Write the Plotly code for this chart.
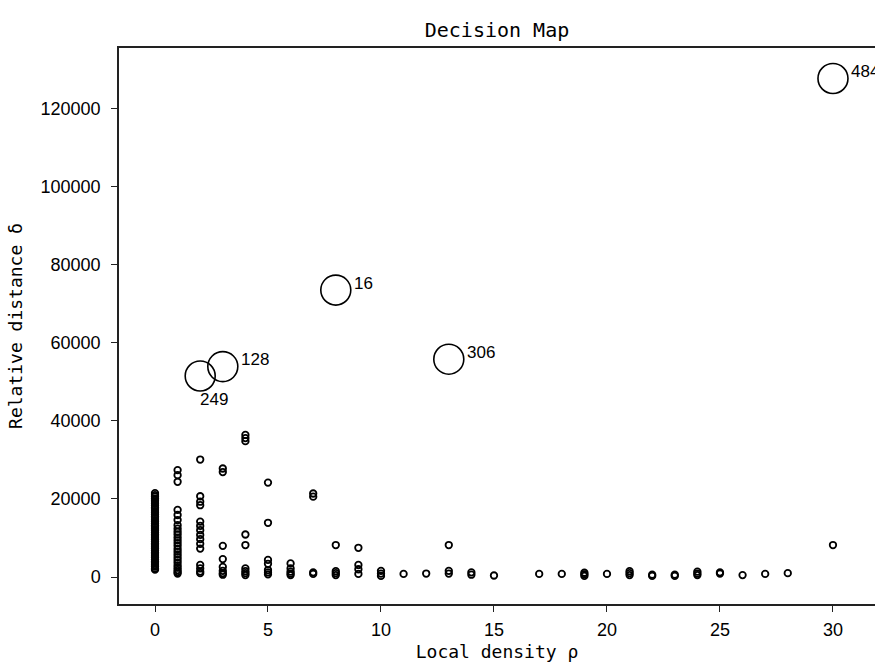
import plotly.graph_objects as go

# Small points: local density (rho) columns and the relative distances (delta) read per column
column_rho = [0, 1, 2, 3, 4, 5, 6, 7, 8, 9, 10, 11, 12, 13, 14, 15,
              17, 18, 19, 20, 21, 22, 23, 24, 25, 26, 27, 28, 30]
column_delta = [
    [21500, 21000, 20600, 20100, 19700, 19200, 18800, 18300, 17800, 17400, 16900, 16500,
     16000, 15500, 15100, 14600, 14200, 13700, 13200, 12800, 12300, 11900, 11400, 10900,
     10500, 10000, 9600, 9100, 8600, 8200, 7700, 7300, 6800, 6300, 5900, 5400, 5000,
     4500, 4000, 3600, 3100, 2700, 2200, 1900],
    [27400, 26100, 24400, 17200, 15900, 14600, 13300, 12400, 11600, 10900, 10100, 9400,
     8700, 8000, 7200, 6500, 5800, 5100, 4400, 3700, 3000, 2400, 1800, 1300, 900],
    [30100, 20700, 19300, 18400, 14200, 13100, 12000, 10800, 9700, 8500, 7300, 3100,
     2200, 1400, 1000],
    [27800, 26900, 8000, 4600, 2600, 1600, 1000, 600],
    [36400, 35600, 34800, 10900, 8200, 2200, 1500, 1000, 500],
    [24200, 13900, 4400, 3400, 1800, 1200, 700],
    [3500, 2200, 1400, 900, 500],
    [21400, 20600, 1200, 800],
    [8200, 1500, 1000, 500],
    [7500, 3100, 2000, 800],
    [1600, 900, 300],
    [800],
    [900],
    [8200, 1600, 900],
    [1200, 600],
    [400],
    [800],
    [800],
    [1100, 700, 300],
    [800],
    [1500, 1000, 500],
    [600, 300],
    [600, 300],
    [1400, 900, 500],
    [1200, 900],
    [500],
    [800],
    [1000],
    [8200],
]

# Cluster centres
center_rho = [2, 3, 8, 13, 30]
center_delta = [51500, 53900, 73500, 55800, 127700]
center_ids = ["249", "128", "16", "306", "484"]

small_x, small_y = [], []
for r, vals in zip(column_rho, column_delta):
    for v in vals:
        small_x.append(r)
        small_y.append(v)

fig = go.Figure()
fig.add_trace(go.Scatter(
    x=small_x, y=small_y, mode="markers",
    marker=dict(size=6.5, color="rgba(0,0,0,0)", line=dict(color="black", width=1.8)),
    showlegend=False, hoverinfo="skip"))
fig.add_trace(go.Scatter(
    x=center_rho, y=center_delta, mode="markers",
    marker=dict(size=30, color="rgba(0,0,0,0)", line=dict(color="black", width=1.6)),
    showlegend=False, hoverinfo="skip"))

for r, d, label in zip(center_rho, center_delta, center_ids):
    if label == "249":
        xs, ys = -2, -24
    else:
        xs, ys = 16, 7
    fig.add_annotation(x=r, y=d, xref="x", yref="y", text=label, showarrow=False,
                       xanchor="left", yanchor="middle", xshift=xs, yshift=ys,
                       font=dict(family="Liberation Sans", size=17, color="black"))

mono = "DejaVu Sans Mono"
fig.update_layout(
    width=875, height=663,
    margin=dict(l=119, r=0, t=48, b=59, autoexpand=False),
    paper_bgcolor="white", plot_bgcolor="white",
    title=dict(text="Decision Map", x=0.5, xref="paper", xanchor="center",
               y=1 - 30 / 663, yref="container", yanchor="middle",
               font=dict(family=mono, size=20, color="black")),
    font=dict(family="Liberation Sans", size=18, color="black"),
)
axis_common = dict(showgrid=False, zeroline=False, showline=True, linecolor="#222",
                   linewidth=1.5, mirror=True, ticks="outside", ticklen=6,
                   tickwidth=1.3, tickcolor="#222", automargin=False,
                   tickfont=dict(family="Liberation Sans", size=18, color="black"))
fig.update_xaxes(range=[-1.593, 31.86], tickvals=[0, 5, 10, 15, 20, 25, 30],
                 ticklabelstandoff=3,
                 title=dict(text="Local density ρ", standoff=6,
                            font=dict(family=mono, size=18, color="black")),
                 **axis_common)
fig.update_yaxes(range=[-6900, 135500],
                 tickvals=[0, 20000, 40000, 60000, 80000, 100000, 120000],
                 ticktext=["0", "20000", "40000", "60000", "80000", "100000", "120000"],
                 ticklabelstandoff=7,
                 title=dict(text="Relative distance δ", standoff=13,
                            font=dict(family=mono, size=18, color="black")),
                 **axis_common)

fig.write_html("out.html", config={"displayModeBar": False},
               post_script="document.body.style.margin='0px';document.body.style.overflow='hidden';")
